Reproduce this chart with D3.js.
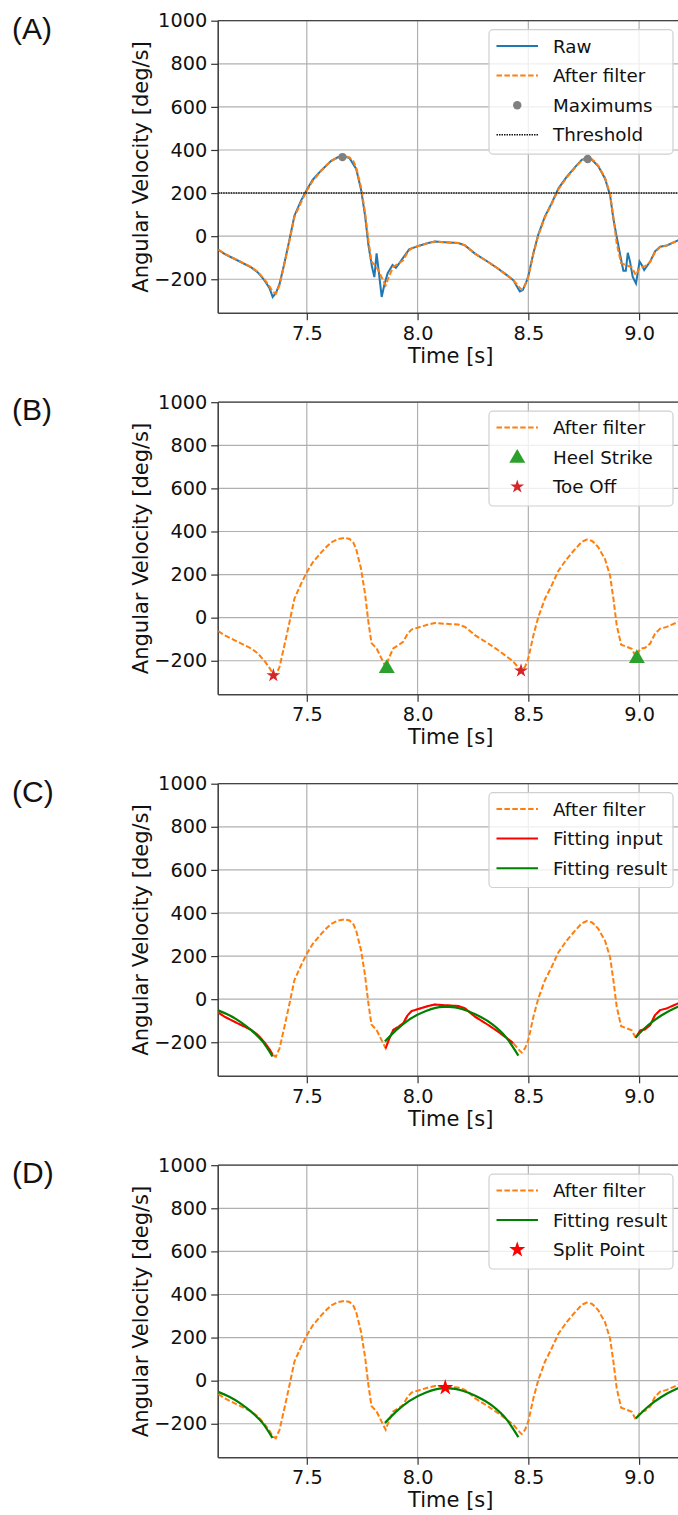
<!DOCTYPE html>
<html><head><meta charset="utf-8">
<script src="https://cdn.jsdelivr.net/npm/d3@7"></script>
<style>body{margin:0;background:#fff}svg{display:block}</style>
</head><body>
<script>
// ---- data ----
const filterT = [7.100,7.128,7.188,7.249,7.279,7.309,7.331,7.346,7.360,7.377,7.399,7.422,7.444,7.474,7.500,7.527,7.565,7.590,7.610,7.640,7.670,7.693,7.710,7.723,7.745,7.763,7.778,7.792,7.815,7.837,7.856,7.870,7.890,7.913,7.935,7.955,7.973,8.011,8.048,8.078,8.123,8.184,8.214,8.259,8.319,8.364,8.394,8.432,8.462,8.470,8.485,8.500,8.523,8.545,8.575,8.605,8.636,8.673,8.711,8.741,8.764,8.786,8.800,8.816,8.846,8.869,8.884,8.899,8.919,8.944,8.967,8.985,9.005,9.027,9.050,9.072,9.095,9.125,9.148,9.176,9.200];
const filterV = [-62,-81,-112,-143,-166,-201,-232,-258,-267,-228,-128,-20,88,157,211,257,303,330,349,365,370,365,348,318,226,110,-20,-118,-143,-189,-228,-189,-143,-128,-112,-75,-55,-43,-32,-25,-28,-32,-43,-81,-120,-151,-174,-204,-240,-248,-228,-189,-81,3,88,149,218,272,318,352,362,357,345,326,272,195,88,-35,-126,-135,-145,-180,-145,-140,-120,-74,-51,-43,-32,-20,-10];
const rawT = [7.100,7.128,7.188,7.249,7.279,7.309,7.331,7.346,7.360,7.377,7.399,7.422,7.444,7.474,7.500,7.527,7.565,7.610,7.640,7.665,7.693,7.723,7.745,7.763,7.778,7.794,7.805,7.815,7.824,7.838,7.850,7.865,7.887,7.902,7.917,7.962,8.011,8.048,8.078,8.123,8.184,8.214,8.259,8.319,8.364,8.394,8.432,8.455,8.462,8.475,8.490,8.500,8.523,8.545,8.575,8.605,8.636,8.673,8.711,8.741,8.764,8.786,8.816,8.846,8.869,8.884,8.899,8.922,8.929,8.940,8.949,8.959,8.971,8.986,9.002,9.012,9.023,9.050,9.072,9.095,9.125,9.148,9.176,9.200];
const rawV = [-62,-82,-113,-145,-168,-205,-240,-282,-265,-222,-125,-15,95,165,216,262,305,350,366,372,362,312,215,95,-40,-141,-190,-80,-157,-282,-226,-172,-134,-147,-126,-61,-43,-32,-25,-28,-32,-43,-81,-120,-151,-174,-204,-245,-257,-250,-215,-185,-78,8,92,152,222,275,320,354,362,356,324,268,190,80,-3,-126,-160,-160,-77,-118,-188,-220,-118,-134,-157,-118,-70,-49,-43,-32,-20,-10];
const maxT = [7.661, 8.768];
const maxV = [367, 358];
const threshold = 200;
const heelT = [7.861, 8.990];
const heelV = [-236, -189];
const toeT = [7.349, 8.467];
const toeV = [-268, -246];
const fitWindows = [[7.10, 7.352], [7.852, 8.458], [8.984, 9.20]];
const fit1T = [7.10, 7.15, 7.20, 7.25, 7.30, 7.345];
const fit1V = [-52, -75, -105, -145, -196, -266];
const fit2T = [7.853, 7.902, 7.962, 8.038, 8.113, 8.143, 8.203, 8.263, 8.338, 8.398, 8.455];
const fit2V = [-196, -145, -95, -55, -36, -36, -47, -71, -117, -175, -262];
const fit3T = [8.985, 9.04, 9.10, 9.17, 9.20];
const fit3V = [-176, -121, -76, -38, -25];
const splitT = [8.125];
const splitV = [-32];
const xTicks = [7.5, 8.0, 8.5, 9.0];
const yTicks = [-200, 0, 200, 400, 600, 800, 1000];
const panelLabels = ["(A)", "(B)", "(C)", "(D)"];

// ---- drawing ----
const W = 678, H = 1515;
const svg = d3.select("body").append("svg").attr("width", W).attr("height", H);
const FONT = "DejaVu Sans";
const TICK_FS = 19.3, LAB_FS = 21, LEG_FS = 18.3;
const C = {raw:"#1f77b4", filt:"#ff7f0e", max:"#808080", heel:"#2ca02c", toe:"#d62728", fitIn:"#ff0000", fitRes:"#008000", split:"#ff0000"};

const x = d3.scaleLinear().domain([7.1, 9.2]).range([218.2, 683.4]);
const zip = (T, V) => T.map((t, i) => [t, V[i]]);
const filt = zip(filterT, filterV), raw = zip(rawT, rawV);

const starPath = s => d3.symbol().type(d3.symbolStar).size(s)();
const triPath = s => d3.symbol().type(d3.symbolTriangle).size(s)();

function panel(i) {
  const top = 20.7 + 381.5 * i, h = 292.6;
  const g = svg.append("g");
  const y = d3.scaleLinear().domain([-358, 1000]).range([top + h, top]);
  const clipId = "clip" + i;
  svg.append("clipPath").attr("id", clipId).append("rect")
    .attr("x", x.range()[0]).attr("y", top).attr("width", x.range()[1] - x.range()[0]).attr("height", h);
  g.selectAll(".gx").data(xTicks).join("line")
    .attr("x1", d => x(d)).attr("x2", d => x(d)).attr("y1", top).attr("y2", top + h)
    .attr("stroke", "#b0b0b0").attr("stroke-width", 1.2);
  g.selectAll(".gy").data(yTicks).join("line")
    .attr("x1", x.range()[0]).attr("x2", x.range()[1]).attr("y1", d => y(d)).attr("y2", d => y(d))
    .attr("stroke", "#b0b0b0").attr("stroke-width", 1.2);
  const ax = d3.axisBottom(x).tickValues(xTicks).tickFormat(d3.format(".1f")).tickSize(7).tickPadding(6);
  const ay = d3.axisLeft(y).tickValues(yTicks).tickFormat(d => d < 0 ? "\u2212" + Math.abs(d) : d).tickSize(7).tickPadding(4);
  const gx = svg.append("g").attr("transform", `translate(0,${top + h})`).call(ax);
  const gy = svg.append("g").attr("transform", `translate(${x.range()[0]},0)`).call(ay);
  [gx, gy].forEach(a => {
    a.selectAll("text").attr("font-family", FONT).attr("font-size", TICK_FS).attr("fill", "#111");
    a.selectAll("line").attr("stroke", "#333").attr("stroke-width", 1.2);
    a.select(".domain").remove();
  });
  g.append("line").attr("x1", x.range()[0]).attr("x2", x.range()[0]).attr("y1", top).attr("y2", top + h).attr("stroke", "#444").attr("stroke-width", 1.6);
  g.append("line").attr("x1", x.range()[0]).attr("x2", x.range()[1]).attr("y1", top + h).attr("y2", top + h).attr("stroke", "#444").attr("stroke-width", 1.6);
  g.append("line").attr("x1", x.range()[0]).attr("x2", x.range()[1]).attr("y1", top).attr("y2", top).attr("stroke", "#444").attr("stroke-width", 1.2);
  svg.append("text").attr("x", 12).attr("y", top + 18).text(panelLabels[i])
    .attr("font-family", "Liberation Sans").attr("font-size", 30).attr("fill", "#111");
  svg.append("text").attr("transform", `translate(148,${top + h / 2}) rotate(-90)`).attr("text-anchor", "middle")
    .text("Angular Velocity [deg/s]").attr("font-family", FONT).attr("font-size", LAB_FS).attr("fill", "#111");
  svg.append("text").attr("x", (x.range()[0] + x.range()[1]) / 2).attr("y", top + 342).attr("text-anchor", "middle")
    .text("Time [s]").attr("font-family", FONT).attr("font-size", LAB_FS).attr("fill", "#111");
  const plot = svg.append("g").attr("clip-path", `url(#${clipId})`);
  const line = d3.line().x(d => x(d[0])).y(d => y(d[1]));
  const smooth = d3.line().x(d => x(d[0])).y(d => y(d[1])).curve(d3.curveMonotoneX);
  return {top, y, plot, line, smooth};
}

function legend(top, entries) {
  const n = entries.length;
  const g = svg.append("g");
  g.append("rect").attr("x", 489).attr("y", top + 9).attr("width", 184).attr("height", n * 29.6 + 6)
    .attr("rx", 4).attr("fill", "#fff").attr("fill-opacity", 0.8).attr("stroke", "#d0d0d0").attr("stroke-width", 1.2);
  entries.forEach((e, k) => {
    const cy = top + 25.3 + k * 29.6;
    e.draw(g, 496.5, 538, cy);
    g.append("text").attr("x", 553).attr("y", cy + 6.6).text(e.label)
      .attr("font-family", FONT).attr("font-size", LEG_FS).attr("fill", "#111");
  });
}
const lgLine = (color, dash, w) => (g, x0, x1, cy) => g.append("line").attr("x1", x0).attr("x2", x1).attr("y1", cy).attr("y2", cy)
  .attr("stroke", color).attr("stroke-width", w || 2).attr("stroke-dasharray", dash || null);
const lgSym = (path, color, dy) => (g, x0, x1, cy) => g.append("path").attr("d", path)
  .attr("transform", `translate(${(x0 + x1) / 2},${cy + (dy || 0)})`).attr("fill", color);
const DASH = "5.5,2.4";

// Panel A
{
  const p = panel(0);
  p.plot.append("path").datum(raw).attr("d", p.line).attr("fill", "none").attr("stroke", C.raw).attr("stroke-width", 2);
  p.plot.append("path").datum(filt).attr("d", p.line).attr("fill", "none").attr("stroke", C.filt).attr("stroke-width", 2).attr("stroke-dasharray", DASH);
  p.plot.append("line").attr("x1", x.range()[0]).attr("x2", x.range()[1]).attr("y1", p.y(threshold)).attr("y2", p.y(threshold))
    .attr("stroke", "#111").attr("stroke-width", 1.6).attr("stroke-dasharray", "1.5,1");
  legend(p.top, [
    {label: "Raw", draw: lgLine(C.raw)},
    {label: "After filter", draw: lgLine(C.filt, DASH)},
    {label: "Maximums", draw: (g, a, b, cy) => g.append("circle").attr("cx", (a + b) / 2).attr("cy", cy).attr("r", 4.2).attr("fill", C.max)},
    {label: "Threshold", draw: lgLine("#111", "1.5,1", 1.6)}
  ]);
  svg.append("g").attr("clip-path", "url(#clip0)").selectAll(".mx").data(zip(maxT, maxV)).join("circle")
    .attr("cx", d => x(d[0])).attr("cy", d => p.y(d[1])).attr("r", 4.2).attr("fill", C.max);
}
// Panel B
{
  const p = panel(1);
  p.plot.append("path").datum(filt).attr("d", p.line).attr("fill", "none").attr("stroke", C.filt).attr("stroke-width", 2).attr("stroke-dasharray", DASH);
  p.plot.selectAll(".hs").data(zip(heelT, heelV)).join("path").attr("d", triPath(110))
    .attr("transform", d => `translate(${x(d[0])},${p.y(d[1])})`).attr("fill", C.heel);
  p.plot.selectAll(".to").data(zip(toeT, toeV)).join("path").attr("d", starPath(60))
    .attr("transform", d => `translate(${x(d[0])},${p.y(d[1])})`).attr("fill", C.toe);
  legend(p.top, [
    {label: "After filter", draw: lgLine(C.filt, DASH)},
    {label: "Heel Strike", draw: lgSym(triPath(110), C.heel, 1)},
    {label: "Toe Off", draw: lgSym(starPath(60), C.toe)}
  ]);
}
// Panel C
{
  const p = panel(2);
  p.plot.append("path").datum(filt).attr("d", p.line).attr("fill", "none").attr("stroke", C.filt).attr("stroke-width", 2).attr("stroke-dasharray", DASH);
  fitWindows.forEach(w => {
    const seg = filt.filter(d => d[0] >= w[0] && d[0] <= w[1]);
    p.plot.append("path").datum(seg).attr("d", p.line).attr("fill", "none").attr("stroke", C.fitIn).attr("stroke-width", 2);
  });
  [zip(fit1T, fit1V), zip(fit2T, fit2V), zip(fit3T, fit3V)].forEach(seg =>
    p.plot.append("path").datum(seg).attr("d", p.smooth).attr("fill", "none").attr("stroke", C.fitRes).attr("stroke-width", 2.2));
  legend(p.top, [
    {label: "After filter", draw: lgLine(C.filt, DASH)},
    {label: "Fitting input", draw: lgLine(C.fitIn)},
    {label: "Fitting result", draw: lgLine(C.fitRes)}
  ]);
}
// Panel D
{
  const p = panel(3);
  p.plot.append("path").datum(filt).attr("d", p.line).attr("fill", "none").attr("stroke", C.filt).attr("stroke-width", 2).attr("stroke-dasharray", DASH);
  [zip(fit1T, fit1V), zip(fit2T, fit2V), zip(fit3T, fit3V)].forEach(seg =>
    p.plot.append("path").datum(seg).attr("d", p.smooth).attr("fill", "none").attr("stroke", C.fitRes).attr("stroke-width", 2.2));
  p.plot.selectAll(".sp").data(zip(splitT, splitV)).join("path").attr("d", starPath(80))
    .attr("transform", d => `translate(${x(d[0])},${p.y(d[1])})`).attr("fill", C.split);
  legend(p.top, [
    {label: "After filter", draw: lgLine(C.filt, DASH)},
    {label: "Fitting result", draw: lgLine(C.fitRes)},
    {label: "Split Point", draw: lgSym(starPath(80), C.split)}
  ]);
}
</script>
</body></html>
